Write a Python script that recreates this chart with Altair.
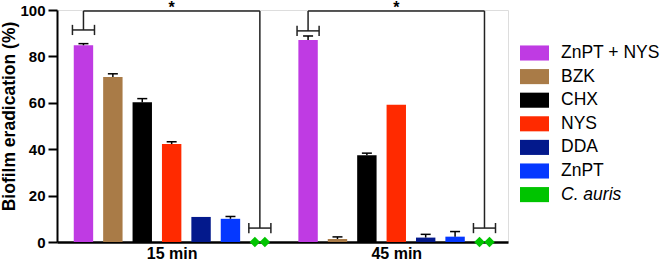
import altair as alt
import pandas as pd

# ---------------- data ----------------
groups = ["15 min", "45 min"]
treatments = ["ZnPT + NYS", "BZK", "CHX", "NYS", "DDA", "ZnPT", "C. auris"]
colors = ["#BF3BE3", "#A97B47", "#000000", "#FF2A00", "#03198C", "#0538FF", "#00C400"]

mean_15 = [84.8, 71.1, 60.2, 42.2, 10.8, 10.0]
err_15 = [0.7, 1.4, 1.6, 1.0, 0.0, 1.0]
mean_45 = [87.1, 1.3, 37.4, 59.2, 1.9, 2.3]
err_45 = [1.7, 0.9, 0.9, 0.0, 1.4, 2.2]
cauris_15 = [0.0, 0.0]
cauris_45 = [0.0, 0.0]

bracket_high = [91.4, 91.0]   # bracket over ZnPT + NYS
bracket_low = [6.0, 6.0]      # bracket over C. auris
line_top = 99.6
stars = ["*", "*"]
y_ticks = [0, 20, 40, 60, 80, 100]

# ---------------- layout constants ----------------
GROUP_STEP = 7.64
BAR_HALF = 0.33
CAP_HALF = 0.17
BRK_HALF = 0.375
BRK_CAP = 2.2
DIAM_OFF = 0.17
FONT = "Liberation Sans"

means = [mean_15, mean_45]
errs = [err_15, err_45]
cauris = [cauris_15, cauris_45]

bar_rows, pt_rows, brk_rows, conn_rows = [], [], [], []
for g, grp in enumerate(groups):
    for i, t in enumerate(treatments[:-1]):
        p = g * GROUP_STEP + i
        bar_rows.append(dict(group=grp, treatment=t, pos=p, x0=p - BAR_HALF, x1=p + BAR_HALF,
                             c0=p - CAP_HALF, c1=p + CAP_HALF,
                             value=means[g][i], top=means[g][i] + errs[g][i], err=errs[g][i]))
    pc = g * GROUP_STEP + len(treatments) - 1
    n = len(cauris[g])
    for k, v in enumerate(cauris[g]):
        pt_rows.append(dict(group=grp, treatment=treatments[-1],
                            pos=pc + (k - (n - 1) / 2) * 2 * DIAM_OFF, value=v))
    pp = g * GROUP_STEP
    for p, by in [(pp, bracket_high[g]), (pc, bracket_low[g])]:
        brk_rows.append(dict(pos=p, l=p - BRK_HALF, r=p + BRK_HALF, y=by,
                             ylo=by - BRK_CAP, yhi=by + BRK_CAP, top=line_top))
    conn_rows.append(dict(p0=pp, p1=pc, mid=(pp + pc) / 2, y=line_top, star=stars[g]))

bars_df = pd.DataFrame(bar_rows)
pts_df = pd.DataFrame(pt_rows)
brk_df = pd.DataFrame(brk_rows)
conn_df = pd.DataFrame(conn_rows)

group_centers = [g * GROUP_STEP + (len(treatments) - 1) / 2 for g in range(len(groups))]
label_expr = "datum.value < %f ? '%s' : '%s'" % ((group_centers[0] + group_centers[1]) / 2, groups[0], groups[1])

xscale = alt.Scale(domain=[-0.9, 14.44], nice=False, zero=False)
yscale = alt.Scale(domain=[0, 100], nice=False)

color = alt.Color(
    "treatment:N",
    scale=alt.Scale(domain=treatments, range=colors),
    legend=alt.Legend(
        orient="none", legendX=463, legendY=28.5, title=None,
        symbolType="M-1,-0.52H1V0.52H-1Z", symbolSize=841,
        symbolStrokeWidth=0, symbolOpacity=1,
        labelFont=FONT, labelFontSize=17.5, labelColor="#000000",
        labelOffset=12, rowPadding=0.6,
        labelFontStyle={"expr": "datum.label == '%s' ? 'italic' : 'normal'" % treatments[-1]},
    ),
)

x_axis = alt.Axis(values=group_centers, labelExpr=label_expr, ticks=False, grid=False, title=None,
                  domainColor="#000000", domainWidth=2.5, labelFont=FONT, labelFontSize=16,
                  labelFontWeight="bold", labelColor="#000000", labelPadding=3)
y_axis = alt.Axis(values=y_ticks, title="Biofilm eradication (%)", grid=False,
                  domainColor="#000000", domainWidth=2, tickColor="#000000", tickWidth=2, tickSize=9,
                  labelFont=FONT, labelFontSize=15, labelFontWeight="bold", labelColor="#000000",
                  labelPadding=3, titleFont=FONT, titleFontSize=17.5, titleFontWeight="bold",
                  titleColor="#000000", titleY=106, titleX=-39, titleBaseline="bottom")

base_bars = alt.Chart(bars_df)

bars = base_bars.mark_bar().encode(
    x=alt.X("x0:Q", scale=xscale, axis=x_axis),
    x2="x1:Q",
    y=alt.Y("value:Q", scale=yscale, axis=y_axis),
    y2=alt.datum(0),
    color=color,
)

err_df_filter = "datum.err > 0"
err_line = base_bars.transform_filter(err_df_filter).mark_rule(color="#000000", strokeWidth=1.5).encode(
    x="pos:Q", y="value:Q", y2="top:Q")
err_cap = base_bars.transform_filter(err_df_filter).mark_rule(color="#000000", strokeWidth=1.5).encode(
    x="c0:Q", x2="c1:Q", y="top:Q")

diamonds = alt.Chart(pts_df).mark_point(shape="diamond", filled=True, size=110, opacity=1, strokeWidth=0).encode(
    x="pos:Q", y="value:Q", color=color)

LINE = dict(color="#222222", strokeWidth=1.5)
brk_h = alt.Chart(brk_df).mark_rule(**LINE).encode(x="l:Q", x2="r:Q", y="y:Q")
brk_l = alt.Chart(brk_df).mark_rule(**LINE).encode(x="l:Q", y="ylo:Q", y2="yhi:Q")
brk_r = alt.Chart(brk_df).mark_rule(**LINE).encode(x="r:Q", y="ylo:Q", y2="yhi:Q")
brk_v = alt.Chart(brk_df).mark_rule(**LINE).encode(x="pos:Q", y="y:Q", y2="top:Q")
conn_h = alt.Chart(conn_df).mark_rule(**LINE).encode(x="p0:Q", x2="p1:Q", y="y:Q")
star_t = alt.Chart(conn_df).mark_text(font=FONT, fontSize=16, fontWeight="bold", color="#000000",
                                      baseline="alphabetic", dy=2).encode(
    x="mid:Q", y="y:Q", text="star:N")

chart = alt.layer(bars, err_line, err_cap, brk_h, brk_l, brk_r, brk_v, conn_h, star_t, diamonds).properties(
    width=451, height=232,
    autosize=alt.AutoSizeParams(type="none"),
    padding={"left": 57, "top": 10, "right": 158, "bottom": 19},
).configure_view(stroke=None).configure(background="#ffffff")

chart.save("out.html", embed_options={"renderer": "svg", "actions": False})
